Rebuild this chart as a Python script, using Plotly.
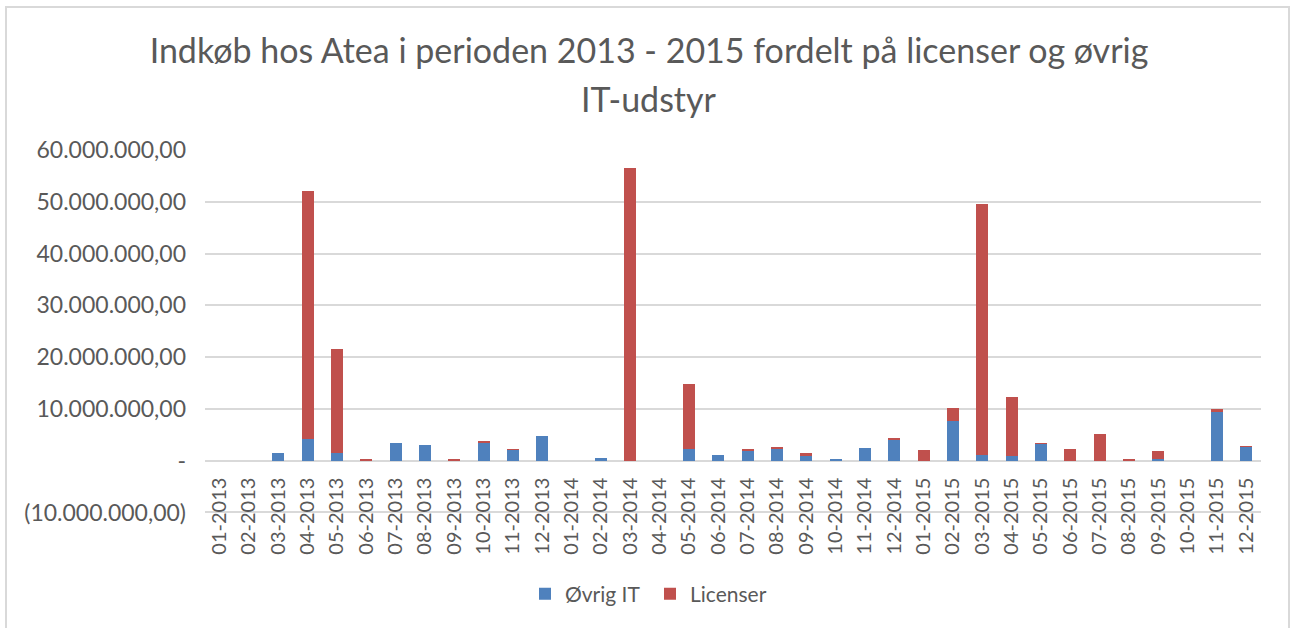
import plotly.graph_objects as go

months = ["01-2013", "02-2013", "03-2013", "04-2013", "05-2013", "06-2013",
          "07-2013", "08-2013", "09-2013", "10-2013", "11-2013", "12-2013",
          "01-2014", "02-2014", "03-2014", "04-2014", "05-2014", "06-2014",
          "07-2014", "08-2014", "09-2014", "10-2014", "11-2014", "12-2014",
          "01-2015", "02-2015", "03-2015", "04-2015", "05-2015", "06-2015",
          "07-2015", "08-2015", "09-2015", "10-2015", "11-2015", "12-2015"]

ovrig_it = [0, 0, 1_500_000, 4_260_000, 1_400_000, 0,
            3_500_000, 3_000_000, 0, 3_550_000, 2_100_000, 4_850_000,
            0, 600_000, 0, 0, 2_250_000, 1_000_000,
            2_000_000, 2_250_000, 900_000, 250_000, 2_400_000, 4_000_000,
            0, 7_750_000, 1_160_000, 830_000, 3_300_000, 0,
            0, 0, 300_000, 0, 9_400_000, 2_700_000]

licenser = [0, 0, 0, 47_900_000, 20_200_000, 150_000,
            0, 0, 300_000, 100_000, 100_000, 0,
            0, 0, 56_600_000, 0, 12_650_000, 0,
            200_000, 400_000, 550_000, 0, 0, 300_000,
            2_000_000, 2_450_000, 48_400_000, 11_400_000, 100_000, 2_300_000,
            5_200_000, 400_000, 1_500_000, 0, 500_000, 100_000]

y_tickvals = [-10_000_000, 0, 10_000_000, 20_000_000, 30_000_000,
              40_000_000, 50_000_000, 60_000_000]
y_ticktext = ["(10.000.000,00)", "-", "10.000.000,00", "20.000.000,00",
              "30.000.000,00", "40.000.000,00", "50.000.000,00", "60.000.000,00"]

title_line1 = "Indkøb hos Atea i perioden 2013 - 2015 fordelt på licenser og øvrig"
title_line2 = "IT-udstyr"

FONT = "Lato, 'Open Sans', sans-serif"
TXT = "#595959"
GRID = "#d9d9d9"
W, H = 1291, 628
L, R, T, B = 205, 30, 150, 114

fig = go.Figure()
fig.add_trace(go.Bar(x=months, y=ovrig_it, name="Øvrig IT",
                     marker=dict(color="#4F81BD", line=dict(width=0))))
fig.add_trace(go.Bar(x=months, y=licenser, name="Licenser",
                     marker=dict(color="#C0504D", line=dict(width=0))))

pw = W - L - R
ph = H - T - B
y_lo, y_hi = -10_300_000, 60_000_000
zero_pos = (0 - y_lo) / (y_hi - y_lo)

fig.update_layout(
    width=W, height=H,
    margin=dict(l=L, r=R, t=T, b=B, autoexpand=False),
    barmode="stack", bargap=0.6,
    paper_bgcolor="white", plot_bgcolor="white",
    font=dict(family=FONT, color=TXT),
    title=dict(text=title_line1, font=dict(size=34, color=TXT, family=FONT),
               x=649 / W, xanchor="center", xref="container",
               y=1 - 51 / H, yanchor="middle", yref="container"),
    annotations=[dict(text=title_line2, xref="paper", yref="paper",
                      x=(649 - L) / pw, y=(H - B - 98) / ph,
                      xanchor="center", yanchor="middle", showarrow=False,
                      font=dict(size=34, color=TXT, family=FONT))],
    xaxis=dict(type="category", tickangle=-90, showgrid=False, showline=False,
               ticks="", anchor="free", position=zero_pos,
               tickfont=dict(size=20, color=TXT), ticklabelstandoff=12,
               range=[-0.5, 35.5]),
    yaxis=dict(range=[y_lo, y_hi], tickvals=y_tickvals,
               ticktext=y_ticktext, showgrid=True, gridcolor=GRID, gridwidth=2,
               zeroline=False, showline=False, ticks="",
               tickfont=dict(size=23, color=TXT), ticklabelstandoff=18),
    legend=dict(orientation="h", xref="container", yref="container",
                x=650 / W, y=1 - 594 / H, xanchor="center", yanchor="middle",
                font=dict(size=21, color=TXT), traceorder="normal",
                itemwidth=30, entrywidth=80),
    shapes=[dict(type="rect", xref="paper", yref="paper",
                 x0=(6 - L) / pw, x1=(1289 - L) / pw,
                 y0=(H - B - 700) / ph, y1=(H - B - 7) / ph,
                 line=dict(color=GRID, width=2), fillcolor="rgba(0,0,0,0)",
                 layer="above")],
    showlegend=True,
)

fig.write_html("out.html", config={"displayModeBar": False},
               post_script="document.body.style.margin='0';document.body.style.overflow='hidden';")
